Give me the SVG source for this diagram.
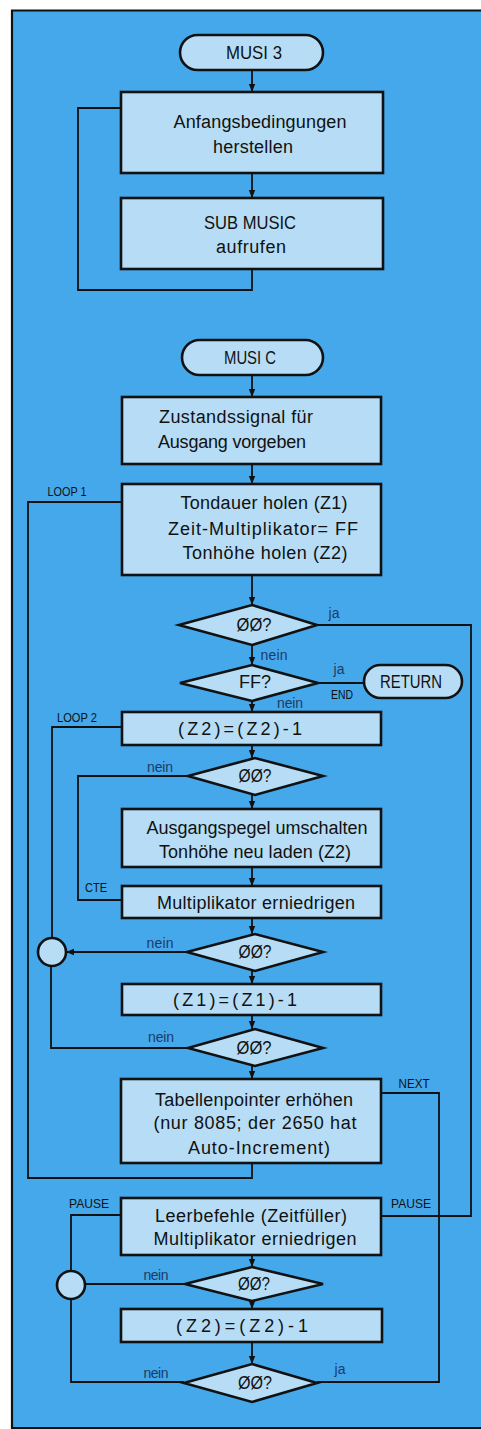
<svg xmlns="http://www.w3.org/2000/svg" width="481" height="1429" viewBox="0 0 481 1429">
<defs>
<style>
.box{fill:#b6ddf5;stroke:#111;stroke-width:2.6}
.ln{fill:none;stroke:#111;stroke-width:1.8}
.t{font-family:"Liberation Sans",Arial,sans-serif;font-size:18px;fill:#111;text-anchor:middle}
.tl{font-family:"Liberation Sans",Arial,sans-serif;font-size:18px;fill:#111}
.s{font-family:"Liberation Sans",Arial,sans-serif;font-size:13px;fill:#111;text-anchor:middle}
.n{font-family:"Liberation Sans",Arial,sans-serif;font-size:14px;fill:#1d3a66;text-anchor:middle}
</style>
<marker id="ah" viewBox="0 0 8 8" refX="8" refY="4" markerWidth="8" markerHeight="8" markerUnits="userSpaceOnUse" orient="auto">
<path d="M0,0.8 L8,4 L0,7.2 Z" fill="#111"/>
</marker>
</defs>
<rect x="0" y="0" width="481" height="1429" fill="#fff"/>
<rect x="12" y="10" width="469" height="1419" fill="#44a8eb"/>
<path d="M12,1429 V10.5 H481 M12,1428 H481" fill="none" stroke="#111" stroke-width="2.2"/>

<g id="connectors">
<path class="ln" d="M252,70 V92" marker-end="url(#ah)"/>
<path class="ln" d="M252,173 V198" marker-end="url(#ah)"/>
<path class="ln" d="M252,269 V290 H78 V108 H121"/>
<path class="ln" d="M252,375 V397" marker-end="url(#ah)"/>
<path class="ln" d="M252,464 V484" marker-end="url(#ah)"/>
<path class="ln" d="M252,575 V605" marker-end="url(#ah)"/>
<path class="ln" d="M252,645 V665" marker-end="url(#ah)"/>
<path class="ln" d="M252,701 V712" marker-end="url(#ah)"/>
<path class="ln" d="M252,745 V758" marker-end="url(#ah)"/>
<path class="ln" d="M252,795 V809" marker-end="url(#ah)"/>
<path class="ln" d="M252,867 V886" marker-end="url(#ah)"/>
<path class="ln" d="M252,918 V934" marker-end="url(#ah)"/>
<path class="ln" d="M252,971 V984" marker-end="url(#ah)"/>
<path class="ln" d="M252,1015 V1029" marker-end="url(#ah)"/>
<path class="ln" d="M252,1066 V1079" marker-end="url(#ah)"/>
<path class="ln" d="M252,1255 V1267" marker-end="url(#ah)"/>
<path class="ln" d="M252,1301 V1309" marker-end="url(#ah)"/>
<path class="ln" d="M252,1342 V1364" marker-end="url(#ah)"/>
<path class="ln" d="M317,625 H471 V1216 H381"/>
<path class="ln" d="M318,683 H364"/>
<path class="ln" d="M188,776 H78 V900 H122"/>
<path class="ln" d="M187,952 H66" marker-end="url(#ah)"/>
<path class="ln" d="M52,938 V727 H122"/>
<path class="ln" d="M188,1048 H51 V966"/>
<path class="ln" d="M252,1163 V1178 H28 V502 H122"/>
<path class="ln" d="M381,1093 H439 V1382 H317"/>
<path class="ln" d="M121,1215 H71 V1271"/>
<path class="ln" d="M185,1284 H85"/>
<path class="ln" d="M71,1299 V1382 H184"/>
</g>

<g id="musi3"><rect class="box" x="180" y="35" width="143" height="35" rx="17.5"/><text class="t" x="254" y="59" textLength="56" lengthAdjust="spacingAndGlyphs">MUSI 3</text></g>
<g id="anfang"><rect class="box" x="121" y="92" width="262" height="81"/><text class="t" x="260" y="128" textLength="173" lengthAdjust="spacing">Anfangsbedingungen</text><text class="t" x="253" y="153" textLength="80" lengthAdjust="spacing">herstellen</text></g>
<g id="submusic"><rect class="box" x="121" y="198" width="262" height="71"/><text class="t" x="250" y="229" textLength="92" lengthAdjust="spacingAndGlyphs">SUB MUSIC</text><text class="t" x="251" y="253" textLength="70" lengthAdjust="spacing">aufrufen</text></g>

<g id="musiC"><rect class="box" x="182" y="340" width="141" height="35" rx="17.5"/><text class="t" x="250" y="364" textLength="52" lengthAdjust="spacingAndGlyphs">MUSI C</text></g>
<g id="zustand"><rect class="box" x="122" y="397" width="259" height="67"/><text class="tl" x="159" y="423" textLength="154" lengthAdjust="spacing">Zustandssignal  für</text><text class="tl" x="158" y="448" textLength="148" lengthAdjust="spacing">Ausgang vorgeben</text></g>
<g id="tondauer"><rect class="box" x="122" y="484" width="259" height="91"/><text class="t" x="264" y="509" textLength="167" lengthAdjust="spacing">Tondauer holen (Z1)</text><text class="t" x="263" y="535" textLength="190" lengthAdjust="spacing">Zeit-Multiplikator= FF</text><text class="t" x="265" y="559" textLength="165" lengthAdjust="spacing">Tonhöhe holen (Z2)</text></g>
<g id="d1"><polygon class="box" points="179,625 252,605 317,625 252,645"/><text class="t" x="254" y="631" textLength="35" lengthAdjust="spacingAndGlyphs">ØØ?</text></g>
<g id="d2"><polygon class="box" points="180,683 252,665 318,683 252,701"/><text class="t" x="255" y="688" textLength="32" lengthAdjust="spacingAndGlyphs">FF?</text></g>
<g id="return"><rect class="box" x="364" y="665" width="98" height="33" rx="16.5"/><text class="t" x="411" y="688" textLength="62" lengthAdjust="spacingAndGlyphs">RETURN</text></g>
<g id="z2a"><rect class="box" x="122" y="712" width="259" height="33"/><text class="t" x="240" y="735" textLength="124" lengthAdjust="spacing">(Z2)=(Z2)-1</text></g>
<g id="d3"><polygon class="box" points="188,776 255,758 323,776 255,795"/><text class="t" x="255" y="782" textLength="33" lengthAdjust="spacingAndGlyphs">ØØ?</text></g>
<g id="ausgang"><rect class="box" x="122" y="809" width="259" height="58"/><text class="t" x="257" y="834" textLength="221" lengthAdjust="spacing">Ausgangspegel umschalten</text><text class="t" x="255" y="858" textLength="192" lengthAdjust="spacing">Tonhöhe neu laden (Z2)</text></g>
<g id="mult1"><rect class="box" x="122" y="886" width="259" height="32"/><text class="t" x="256" y="909" textLength="198" lengthAdjust="spacing">Multiplikator erniedrigen</text></g>
<g id="d4"><polygon class="box" points="187,952 255,934 323,952 255,971"/><text class="t" x="255" y="958" textLength="33" lengthAdjust="spacingAndGlyphs">ØØ?</text></g>
<g id="z1"><rect class="box" x="122" y="984" width="259" height="31"/><text class="t" x="235" y="1006" textLength="124" lengthAdjust="spacing">(Z1)=(Z1)-1</text></g>
<g id="d5"><polygon class="box" points="188,1048 255,1029 323,1048 255,1066"/><text class="t" x="254" y="1054" textLength="35" lengthAdjust="spacingAndGlyphs">ØØ?</text></g>
<g id="tabellen"><rect class="box" x="121" y="1079" width="260" height="84"/><text class="t" x="254" y="1106" textLength="198" lengthAdjust="spacing">Tabellenpointer erhöhen</text><text class="t" x="255" y="1129" textLength="203" lengthAdjust="spacing">(nur 8085; der 2650 hat</text><text class="t" x="259" y="1154" textLength="142" lengthAdjust="spacing">Auto-Increment)</text></g>
<g id="leer"><rect class="box" x="121" y="1198" width="260" height="57"/><text class="t" x="251" y="1222" textLength="192" lengthAdjust="spacing">Leerbefehle (Zeitfüller)</text><text class="t" x="255" y="1245" textLength="203" lengthAdjust="spacing">Multiplikator erniedrigen</text></g>
<g id="d6"><polygon class="box" points="185,1284 252,1267 323,1284 252,1301"/><text class="t" x="254" y="1290" textLength="32" lengthAdjust="spacingAndGlyphs">ØØ?</text></g>
<g id="z2b"><rect class="box" x="121" y="1309" width="261" height="33"/><text class="t" x="242" y="1332" textLength="132" lengthAdjust="spacing">(Z2)=(Z2)-1</text></g>
<g id="d7"><polygon class="box" points="184,1383 252,1364 317,1383 252,1402"/><text class="t" x="255" y="1389" textLength="34" lengthAdjust="spacingAndGlyphs">ØØ?</text></g>
<g id="c1"><circle class="box" cx="52" cy="952" r="14"/></g>
<g id="c2"><circle class="box" cx="71" cy="1285" r="14"/></g>

<g id="labels">
<text class="s" x="67" y="496" textLength="39" lengthAdjust="spacingAndGlyphs">LOOP 1</text>
<text class="s" x="77" y="722" textLength="40" lengthAdjust="spacingAndGlyphs">LOOP 2</text>
<text class="s" x="342" y="699" textLength="22" lengthAdjust="spacingAndGlyphs">END</text>
<text class="s" x="96" y="892" textLength="22" lengthAdjust="spacingAndGlyphs">CTE</text>
<text class="s" x="414" y="1088" textLength="31" lengthAdjust="spacingAndGlyphs">NEXT</text>
<text class="s" x="89" y="1208" textLength="40" lengthAdjust="spacingAndGlyphs">PAUSE</text>
<text class="s" x="411" y="1208" textLength="40" lengthAdjust="spacingAndGlyphs">PAUSE</text>
<text class="n" x="334" y="618">ja</text>
<text class="n" x="274" y="660" textLength="27">nein</text>
<text class="n" x="339" y="674">ja</text>
<text class="n" x="290" y="708" textLength="26">nein</text>
<text class="n" x="160" y="772" textLength="26">nein</text>
<text class="n" x="160" y="948" textLength="27">nein</text>
<text class="n" x="161" y="1042" textLength="26">nein</text>
<text class="n" x="156" y="1280" textLength="25">nein</text>
<text class="n" x="156" y="1378" textLength="25">nein</text>
<text class="n" x="340" y="1374">ja</text>
</g>
</svg>
